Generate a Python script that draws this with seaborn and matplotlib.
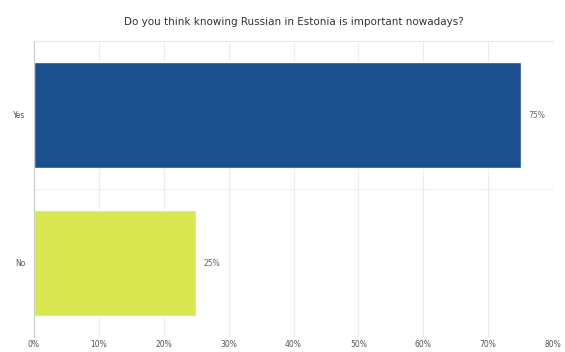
import matplotlib
matplotlib.use("Agg")
import matplotlib.pyplot as plt
import seaborn as sns
import pandas as pd

categories = ["Yes", "No"]
values = [75, 25]
colors = ["#1b4f8e", "#d8e74f"]
xticks = [0, 10, 20, 30, 40, 50, 60, 70, 80]
title = "Do you think knowing Russian in Estonia is important nowadays?"

sns.set_theme(style="white")
plt.rcParams['font.family'] = ['DejaVu Sans']

df = pd.DataFrame({"answer": categories, "pct": values})

fig = plt.figure(figsize=(5.65, 3.52), dpi=100)
ax = fig.add_axes([34/565, 1-337/352, (553-34)/565, (337-41)/352])

sns.barplot(data=df, y="answer", x="pct", hue="answer", palette=colors,
            orient="h", width=0.71, legend=False, ax=ax, saturation=1)

ax.set_xlim(0, 80)
ax.set_ylim(1.5, -0.5)
ax.set_xticks(xticks)
ax.set_xticklabels([f"{t}%" for t in xticks], fontsize=5.5, color="#555555")
ax.tick_params(axis="y", labelsize=5.5, labelcolor="#555555", length=0, pad=6)
ax.tick_params(axis="x", length=0, pad=2)
ax.set_xlabel("")
ax.set_ylabel("")
ax.grid(axis="x", color="#ececec", linewidth=0.8)
ax.axhline(0.5, color="#f0f0f0", linewidth=0.8, zorder=0)
ax.set_axisbelow(True)
for s in ["right", "bottom"]:
    ax.spines[s].set_visible(False)
ax.spines["top"].set_color("#e6e6e6")
ax.spines["top"].set_linewidth(0.8)
ax.spines["left"].set_color("#cccccc")
ax.spines["left"].set_linewidth(0.8)

for i, v in enumerate(values):
    ax.text(v + 1.2, i, f"{v}%", va="center", ha="left", fontsize=5.5, color="#666666")

fig.text(0.5 + 0.02, 1 - 22/352, title, ha="center", va="center", fontsize=7.5, color="#333333")

fig.savefig("out.png", dpi=100)
